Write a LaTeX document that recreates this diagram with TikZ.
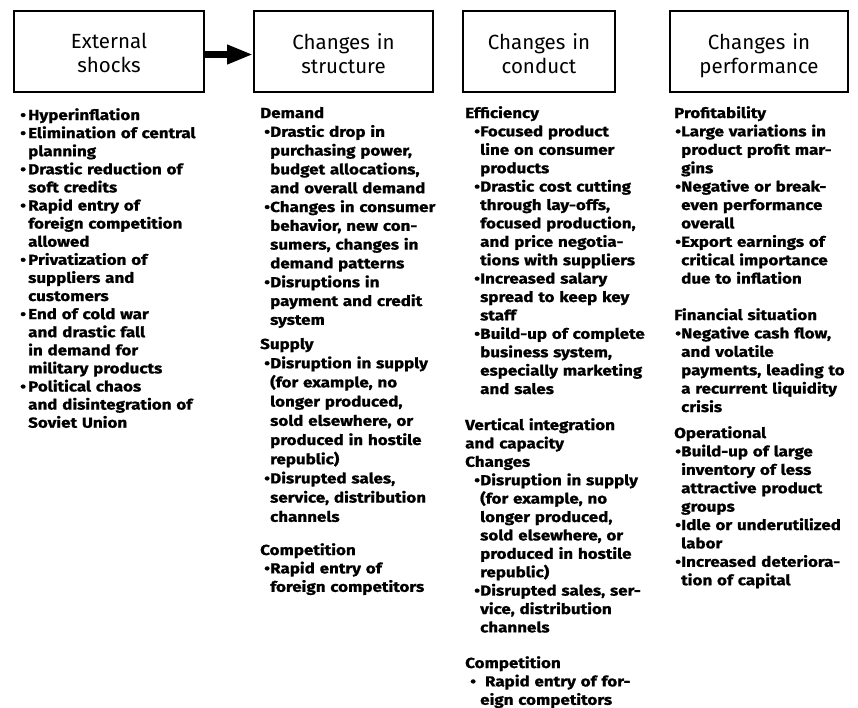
\documentclass[tikz,border=0pt]{standalone}
\usepackage{fontspec}
\setmainfont{Fira Sans}
% wide, heavy face for the lists
\newfontfamily\bodyfont[FakeStretch=1.17, BoldFeatures={FakeBold=1}]{Fira Sans}
\usetikzlibrary{arrows.meta,calc}

% bullet offset and hanging indent, set per column
\newlength\bulx
\newlength\bulw
\newcommand\bu[1]{\makebox[\bulw][l]{\hspace*{\bulx}\textbullet}#1}
\newcommand\cn[1]{\hspace*{\bulw}#1}

\tikzset{
  box/.style={draw, line width=1.8pt, minimum height=81pt, inner sep=0pt},
  head/.style={text width=180pt, align=center, anchor=base, inner sep=0pt,
    font=\fontsize{20.5}{23.5}\selectfont},
  sect/.style 2 args={anchor=base west, inner sep=0pt, text width=220pt,
    align=left, font=\bodyfont\fontsize{14.5}{18.4}\selectfont\bfseries,
    execute at begin node={\setlength\bulx{#1}\setlength\bulw{#2}}},
  lead/.style={font=\bodyfont\fontsize{14.5}{#1}\selectfont\bfseries},
  shock/.style={line width=7pt, -{Triangle[length=26pt,width=18pt]}}
}

\begin{document}
\begin{tikzpicture}[x=1pt,y=-1pt]
\useasboundingbox[fill=white] (0,0) rectangle (858,707);

% header boxes
\node[box, minimum width=190pt] (b1) at (109,51.5) {};
\node[box, minimum width=179pt] (b2) at (343.5,51.5) {};
\node[box, minimum width=152pt] (b3) at (539,51.5) {};
\node[box, minimum width=178pt] (b4) at (759,51.5) {};

\node[head] (h1) at ([yshift=3pt]b1.center) {External\\shocks};
\node[head] (h2) at ([yshift=2pt]b2.center) {Changes in\\structure};
\node[head] (h3) at ([yshift=2pt]b3.center) {Changes in\\conduct};
\node[head] (h4) at ([yshift=2pt]b4.center) {Changes in\\performance};

\draw[shock] ([yshift=-3pt]b1.east) -- ([yshift=-3pt]b2.west);

% external shocks
\node[sect={1pt}{9pt}, lead=18.1] (shocks) at (19,120) {%
\bu{Hyperinflation}\\
\bu{Elimination of central}\\
\cn{planning}\\
\bu{Drastic reduction of}\\
\cn{soft credits}\\
\bu{Rapid entry of}\\
\cn{foreign competition}\\
\cn{allowed}\\
\bu{Privatization of}\\
\cn{suppliers and}\\
\cn{customers}\\
\bu{End of cold war}\\
\cn{and drastic fall}\\
\cn{in demand for}\\
\cn{military products}\\
\bu{Political chaos}\\
\cn{and disintegration of}\\
\cn{Soviet Union}};

% structure
\node[sect={4pt}{10pt}, lead=18.8] (demand) at (260,118) {%
Demand\\
\bu{Drastic drop in}\\
\cn{purchasing power,}\\
\cn{budget allocations,}\\
\cn{and overall demand}\\
\bu{Changes in consumer}\\
\cn{behavior, new con-}\\
\cn{sumers, changes in}\\
\cn{demand patterns}\\
\bu{Disruptions in}\\
\cn{payment and credit}\\
\cn{system}};

\node[sect={4pt}{10pt}, lead=19.2] (supply) at (260,349) {%
Supply\\
\bu{Disruption in supply}\\
\cn{(for example, no}\\
\cn{longer produced,}\\
\cn{sold elsewhere, or}\\
\cn{produced in hostile}\\
\cn{republic)}\\
\bu{Disrupted sales,}\\
\cn{service, distribution}\\
\cn{channels}};

\node[sect={4pt}{10pt}] (compS) at (260,555) {%
Competition\\
\bu{Rapid entry of}\\
\cn{foreign competitors}};

% conduct
\node[sect={9pt}{15pt}] (effic) at (465,118) {%
Efficiency\\
\bu{Focused product}\\
\cn{line on consumer}\\
\cn{products}\\
\bu{Drastic cost cutting}\\
\cn{through lay-offs,}\\
\cn{focused production,}\\
\cn{and price negotia-}\\
\cn{tions with suppliers}\\
\bu{Increased salary}\\
\cn{spread to keep key}\\
\cn{staff}\\
\bu{Build-up of complete}\\
\cn{business system,}\\
\cn{especially marketing}\\
\cn{and sales}};

\node[sect={9pt}{15pt}] (vert) at (465,430) {%
Vertical integration\\
and capacity\\
Changes\\
\bu{Disruption in supply}\\
\cn{(for example, no}\\
\cn{longer produced,}\\
\cn{sold elsewhere, or}\\
\cn{produced in hostile}\\
\cn{republic)}\\
\bu{Disrupted sales, ser-}\\
\cn{vice, distribution}\\
\cn{channels}};

\node[sect={5pt}{15pt}] (compC) at (465,668) {%
Competition\\
\bu{\ Rapid entry of for-}\\
\cn{eign competitors}};

% performance
\node[sect={1pt}{7pt}] (profit) at (674,118) {%
Profitability\\
\bu{Large variations in}\\
\cn{product profit mar-}\\
\cn{gins}\\
\bu{Negative or break-}\\
\cn{even performance}\\
\cn{overall}\\
\bu{Export earnings of}\\
\cn{critical importance}\\
\cn{due to inflation}};

\node[sect={1pt}{7pt}] (finan) at (674,320) {%
Financial situation\\
\bu{Negative cash flow,}\\
\cn{and volatile}\\
\cn{payments, leading to}\\
\cn{a recurrent liquidity}\\
\cn{crisis}};

\node[sect={1pt}{7pt}] (oper) at (674,438) {%
Operational\\
\bu{Build-up of large}\\
\cn{inventory of less}\\
\cn{attractive product}\\
\cn{groups}\\
\bu{Idle or underutilized}\\
\cn{labor}\\
\bu{Increased deteriora-}\\
\cn{tion of capital}};
\end{tikzpicture}
\end{document}
